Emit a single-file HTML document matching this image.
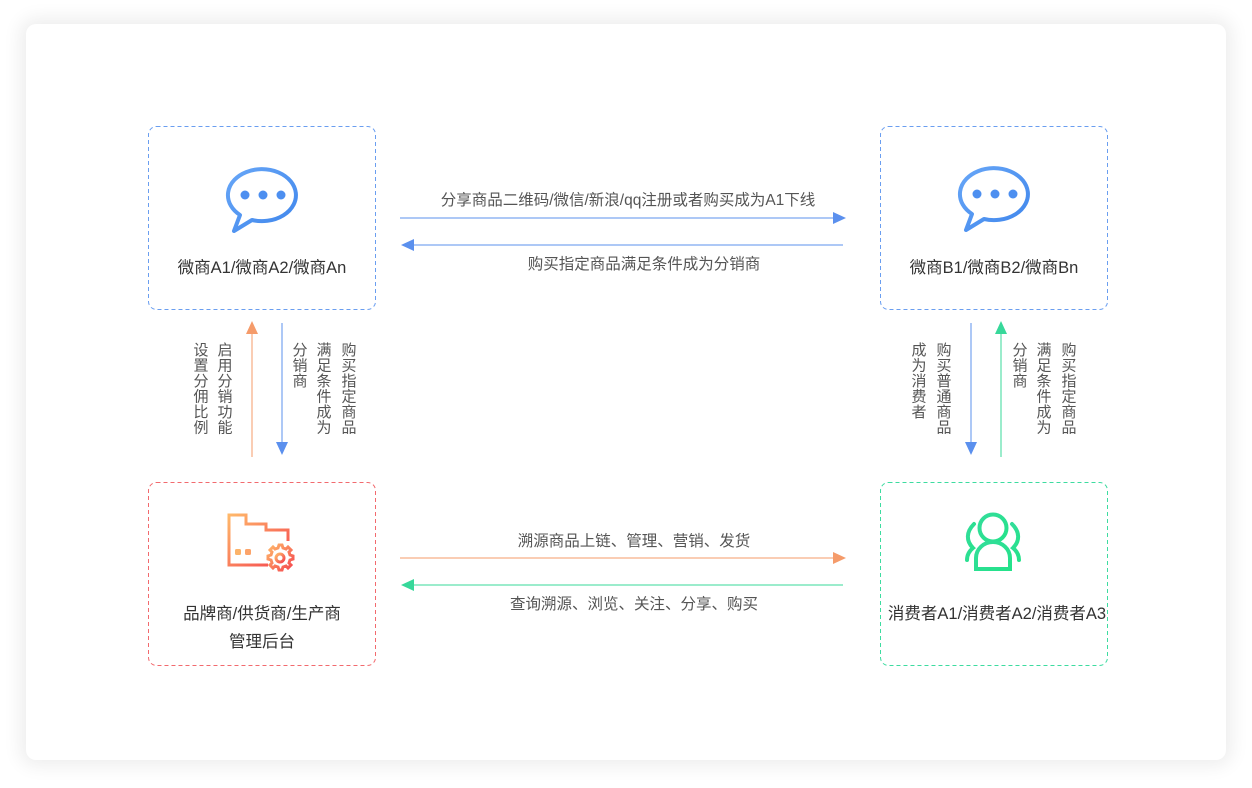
<!DOCTYPE html>
<html><head><meta charset="utf-8"><style>
html,body{margin:0;padding:0;background:#fff;}
body{width:1252px;height:788px;position:relative;overflow:hidden;font-family:"Liberation Sans","Noto Sans CJK SC",sans-serif;}
.card{position:absolute;left:26px;top:24px;width:1200px;height:736px;background:#fff;border-radius:10px;box-shadow:0 0 18px 6px rgba(0,0,0,0.07);}
svg{position:absolute;left:0;top:0;}
text{font-family:"Liberation Sans","Noto Sans CJK SC",sans-serif;}
</style></head><body>
<div class="card"></div>
<svg width="1252" height="788" viewBox="0 0 1252 788">
<defs>
<linearGradient id="og" x1="0" y1="0" x2="1" y2="1"><stop offset="0" stop-color="#ffb86a"/><stop offset="1" stop-color="#f5474f"/></linearGradient>
<linearGradient id="gg" x1="0" y1="0" x2="1" y2="1"><stop offset="0" stop-color="#33dd9a"/><stop offset="1" stop-color="#24e28a"/></linearGradient>
<linearGradient id="bg" x1="0" y1="0" x2="1" y2="1"><stop offset="0" stop-color="#67a6f7"/><stop offset="1" stop-color="#3f86ec"/></linearGradient>
</defs>
<g fill="none" stroke-width="1" stroke-dasharray="4 3">
<rect x="148.5" y="126.5" width="227" height="183" rx="8" stroke="#6a9ef0"/>
<rect x="880.5" y="126.5" width="227" height="183" rx="8" stroke="#6a9ef0"/>
<rect x="148.5" y="482.5" width="227" height="183" rx="8" stroke="#f26a6e"/>
<rect x="880.5" y="482.5" width="227" height="183" rx="8" stroke="#3ddca0"/>
</g>
<!-- chat icons -->
<g fill="none" stroke="url(#bg)" stroke-width="4" stroke-linejoin="round">
<path d="M252 220 A34 26 0 1 0 240 215 L234 231 Z"/>
<path d="M984 219 A34 26 0 1 0 972 214 L966 230 Z"/>
</g>
<g fill="#4d8ff0"><circle cx="245" cy="195" r="4.5"/><circle cx="263" cy="195" r="4.5"/><circle cx="281" cy="195" r="4.5"/>
<circle cx="977" cy="194" r="4.5"/><circle cx="995" cy="194" r="4.5"/><circle cx="1013" cy="194" r="4.5"/></g>
<!-- folder icon -->
<g fill="none" stroke="url(#og)" stroke-width="3">
<path d="M268 565 H229 V515 H246 V524 H266 V530 H288 V541"/>
<path d="M279 545 l3 0 1 3 3 1 2-2 3 3-2 2 1 3 3 1 0 3-3 1-1 3 2 2-3 3-2-2-3 1-1 3h-3l-1-3-3-1-2 2-3-3 2-2-1-3-3-1v-3l3-1 1-3-2-2 3-3 2 2 3-1z"/>
<circle cx="280" cy="558" r="4"/>
</g>
<rect x="235" y="549" width="6" height="6" rx="1.5" fill="#fcb36a"/><rect x="245" y="549" width="6" height="6" rx="1.5" fill="#fca46a"/>
<!-- person icon -->
<g fill="none" stroke="url(#gg)" stroke-width="4" stroke-linecap="round">
<circle cx="993" cy="528" r="13.5"/>
<path d="M976 569 V558 A17 16 0 0 1 1010 558 V569 Z"/>
<path d="M974 524 C966 532 966 541 973 548 C968 552 967 556 967 560"/>
<path d="M1012 524 C1020 532 1020 541 1013 548 C1018 552 1019 556 1019 560"/>
</g>
<!-- node labels -->
<g font-size="16.5" fill="#333" text-anchor="middle">
<text x="262" y="273">微商A1/微商A2/微商An</text>
<text x="994" y="273">微商B1/微商B2/微商Bn</text>
<text x="262" y="619">品牌商/供货商/生产商</text>
<text x="262" y="647">管理后台</text>
<text x="997" y="619">消费者A1/消费者A2/消费者A3</text>
</g>
<!-- horizontal arrows -->
<line x1="400" y1="218" x2="834" y2="218" stroke="#5b90ee"/><path d="M846 218 L833 212 V224 Z" fill="#5b90ee"/>
<line x1="412" y1="245" x2="843" y2="245" stroke="#5b90ee"/><path d="M401 245 L414 239 V251 Z" fill="#5b90ee"/>
<line x1="400" y1="558" x2="834" y2="558" stroke="#f59b6a"/><path d="M846 558 L833 552 V564 Z" fill="#f59b6a"/>
<line x1="412" y1="585" x2="843" y2="585" stroke="#37d89a"/><path d="M401 585 L414 579 V591 Z" fill="#37d89a"/>
<g font-size="15.5" fill="#555" text-anchor="middle">
<text x="628" y="205">分享商品二维码/微信/新浪/qq注册或者购买成为A1下线</text>
<text x="644" y="269">购买指定商品满足条件成为分销商</text>
<text x="634" y="546">溯源商品上链、管理、营销、发货</text>
<text x="634" y="609">查询溯源、浏览、关注、分享、购买</text>
</g>
<!-- vertical arrows -->
<line x1="252" y1="457" x2="252" y2="333" stroke="#f59b6a"/><path d="M252 321 L246 334 H258 Z" fill="#f59b6a"/>
<line x1="282" y1="323" x2="282" y2="443" stroke="#5b90ee"/><path d="M282 455 L276 442 H288 Z" fill="#5b90ee"/>
<line x1="971" y1="323" x2="971" y2="443" stroke="#5b90ee"/><path d="M971 455 L965 442 H977 Z" fill="#5b90ee"/>
<line x1="1001" y1="457" x2="1001" y2="333" stroke="#37d89a"/><path d="M1001 321 L995 334 H1007 Z" fill="#37d89a"/>
<g font-size="15" fill="#555" text-anchor="start" style="writing-mode:vertical-rl;letter-spacing:0.5px">
<text x="200" y="342">设置分佣比例</text>
<text x="224" y="342">启用分销功能</text>
<text x="299" y="342">分销商</text>
<text x="323" y="342">满足条件成为</text>
<text x="348" y="342">购买指定商品</text>
<text x="918" y="342">成为消费者</text>
<text x="943" y="342">购买普通商品</text>
<text x="1019" y="342">分销商</text>
<text x="1043" y="342">满足条件成为</text>
<text x="1068" y="342">购买指定商品</text>
</g>
</svg>
</body></html>
